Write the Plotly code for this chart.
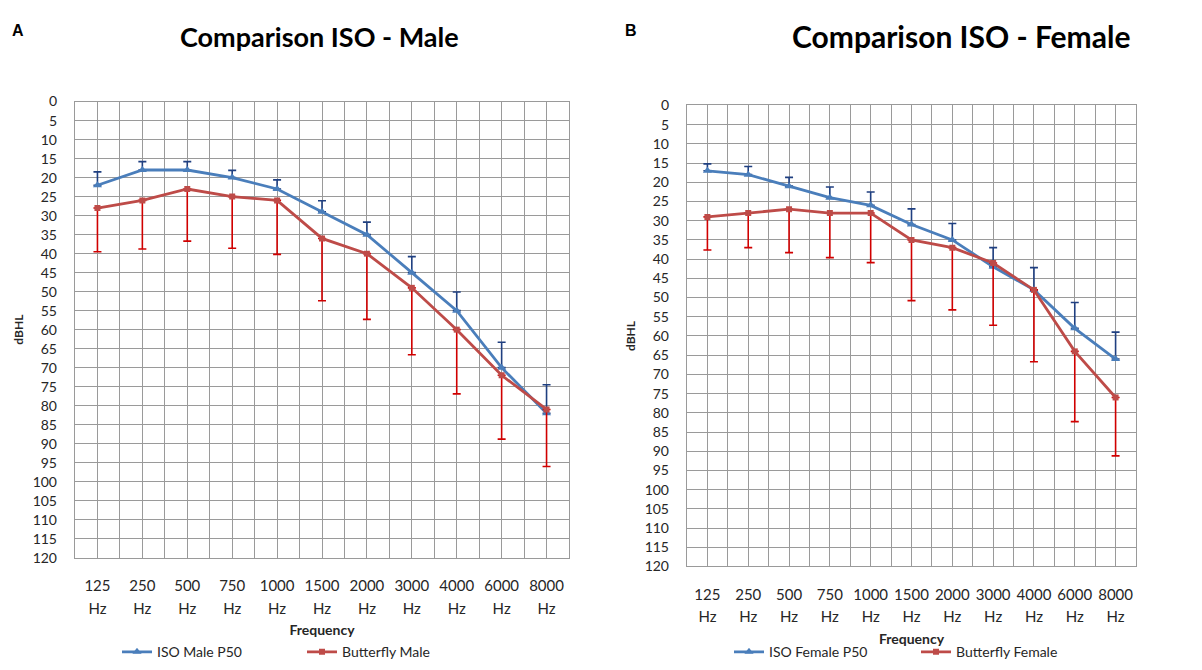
import plotly.graph_objects as go

freq_labels = ["125", "250", "500", "750", "1000", "1500", "2000", "3000", "4000", "6000", "8000"]
unit_labels = ["Hz"] * len(freq_labels)

iso_male = [22, 18, 18, 20, 23, 29, 35, 45, 55, 70, 82]
iso_male_err = [3.5, 2.2, 2.2, 1.9, 2.4, 2.9, 3.3, 4.2, 4.9, 6.7, 7.5]
bf_male = [28, 26, 23, 25, 26, 36, 40, 49, 60, 72, 81]
bf_male_err = [11.5, 12.8, 13.7, 13.6, 14.2, 16.4, 17.3, 17.6, 16.9, 16.8, 15.0]

iso_female = [17, 18, 21, 24, 26, 31, 35, 42, 48, 58, 66]
iso_female_err = [1.8, 2.1, 2.3, 2.8, 3.5, 4.1, 4.3, 5.0, 5.8, 6.7, 7.0]
bf_female = [29, 28, 27, 28, 28, 35, 37, 41, 48, 64, 76]
bf_female_err = [8.6, 9.0, 11.3, 11.6, 12.9, 15.8, 16.2, 16.2, 18.7, 18.3, 15.2]

W, H = 1202, 670
BLUE = "#4a7ebb"
RED = "#be4b48"
BLUE_ERR = "#1f3f80"
RED_ERR = "#d00000"
GRID = "#9a9a9a"
FONT = "Lato"
TXT = "#262626"

xs = list(range(len(freq_labels)))
zeros = [0] * len(xs)

fig = go.Figure()

def add_pair(iso, iso_err, bf, bf_err, names, xa, ya, legend, xunit):
    fig.add_trace(go.Scatter(
        x=xs, y=iso, name=names[0], mode="lines+markers", xaxis=xa, yaxis=ya, legend=legend,
        line=dict(color=BLUE, width=2.8),
        marker=dict(symbol="triangle-up", size=8, color=BLUE),
        error_y=dict(type="data", symmetric=False, array=zeros, arrayminus=iso_err,
                     color=BLUE_ERR, thickness=1.6, width=4),
    ))
    fig.add_trace(go.Scatter(
        x=xs, y=bf, name=names[1], mode="lines+markers", xaxis=xa, yaxis=ya, legend=legend,
        line=dict(color=RED, width=2.8),
        marker=dict(symbol="square", size=6, color=RED),
        error_y=dict(type="data", symmetric=False, array=bf_err, arrayminus=zeros,
                     color=RED_ERR, thickness=1.6, width=4),
    ))
    # invisible carrier trace so the "Hz" unit axis is drawn
    fig.add_trace(go.Scatter(
        x=xs, y=[None] * len(xs), xaxis=xunit, yaxis=ya, mode="markers",
        showlegend=False, hoverinfo="skip", marker=dict(opacity=0),
    ))

add_pair(iso_male, iso_male_err, bf_male, bf_male_err, ["ISO Male P50", "Butterfly Male"], "x", "y", "legend", "x3")
add_pair(iso_female, iso_female_err, bf_female, bf_female_err, ["ISO Female P50", "Butterfly Female"], "x2", "y2", "legend2", "x4")

def px_x(a, b):
    return [a / W, b / W]

def px_y(top, bottom):
    return [1 - bottom / H, 1 - top / H]

def xaxis(domain, anchor):
    return dict(
        domain=domain, anchor=anchor, range=[-0.5, 10.5],
        tickmode="array", tickvals=xs, ticktext=freq_labels,
        tickfont=dict(family=FONT, size=15, color=TXT), ticklabelstandoff=14,
        showgrid=True, gridcolor=GRID, gridwidth=1.4,
        minor=dict(tickmode="array", tickvals=[i + 0.5 for i in range(-1, 11)],
                   showgrid=True, gridcolor=GRID, gridwidth=1.4, ticks=""),
        showline=True, linecolor=GRID, linewidth=1.4, mirror=True,
        ticks="", zeroline=False, fixedrange=True,
    )

def unit_axis(domain, anchor, overlay):
    return dict(
        domain=domain, anchor=anchor, overlaying=overlay, range=[-0.5, 10.5],
        tickmode="array", tickvals=xs, ticktext=unit_labels,
        tickfont=dict(family=FONT, size=15, color=TXT), ticklabelstandoff=40,
        showgrid=False, showline=False, ticks="", zeroline=False, fixedrange=True,
        title=dict(text="<b>Frequency</b>", font=dict(family=FONT, size=14, color=TXT), standoff=9),
    )

def yaxis(domain, anchor):
    return dict(
        domain=domain, anchor=anchor, range=[120, 0], dtick=5, tick0=0,
        tickfont=dict(family=FONT, size=14, color=TXT),
        showgrid=True, gridcolor=GRID, gridwidth=1.4,
        showline=True, linecolor=GRID, linewidth=1.4, mirror=True,
        ticks="", zeroline=False, fixedrange=True, ticklabelstandoff=14,
        title=dict(text="<b>dBHL</b>", font=dict(family=FONT, size=12, color=TXT), standoff=6),
    )

dom_x1 = px_x(75, 569)
dom_x2 = px_x(687, 1136)

fig.update_layout(
    width=W, height=H, margin=dict(l=0, r=0, t=0, b=0),
    paper_bgcolor="white", plot_bgcolor="white",
    xaxis=xaxis(dom_x1, "y"),
    yaxis=yaxis(px_y(95, 563), "x"),
    xaxis2=xaxis(dom_x2, "y2"),
    yaxis2=yaxis(px_y(99, 572), "x2"),
    xaxis3=unit_axis(dom_x1, "y", "x"),
    xaxis4=unit_axis(dom_x2, "y2", "x2"),
    legend=dict(orientation="h", x=117 / W, y=1 - 660 / H, xanchor="left", yanchor="middle",
                font=dict(family=FONT, size=14, color=TXT), entrywidth=140, entrywidthmode="pixels",
                bgcolor="rgba(0,0,0,0)"),
    legend2=dict(orientation="h", x=729 / W, y=1 - 660 / H, xanchor="left", yanchor="middle",
                 font=dict(family=FONT, size=14, color=TXT), entrywidth=142, entrywidthmode="pixels",
                 bgcolor="rgba(0,0,0,0)"),
    showlegend=True,
    annotations=[
        dict(text="<b>Comparison ISO - Male</b>", x=319 / W, y=1 - 28 / H, xref="paper", yref="paper",
             showarrow=False, font=dict(family=FONT, size=27, color="black"), xanchor="center", yanchor="middle"),
        dict(text="<b>Comparison ISO - Female</b>", x=961 / W, y=1 - 28 / H, xref="paper", yref="paper",
             showarrow=False, font=dict(family=FONT, size=30, color="black"), xanchor="center", yanchor="middle"),
        dict(text="<b>A</b>", x=18 / W, y=1 - 22 / H, xref="paper", yref="paper",
             showarrow=False, font=dict(family="Liberation Sans", size=16, color="black"), xanchor="center", yanchor="middle"),
        dict(text="<b>B</b>", x=631 / W, y=1 - 22 / H, xref="paper", yref="paper",
             showarrow=False, font=dict(family="Liberation Sans", size=16, color="black"), xanchor="center", yanchor="middle"),
    ],
)

fig.write_html("out.html")
